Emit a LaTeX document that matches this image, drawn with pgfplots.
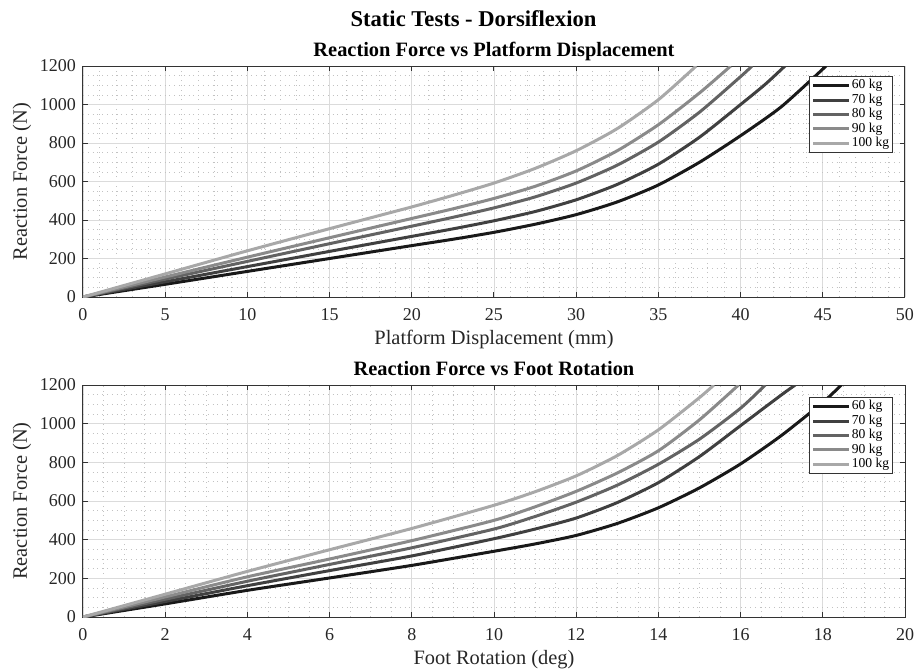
\documentclass[border=0pt]{standalone}
\usepackage{fontspec}
\setmainfont{Liberation Serif}
\usepackage{pgfplots}
\pgfplotsset{compat=1.18}
\definecolor{c60}{gray}{0.10}
\definecolor{c70}{gray}{0.25}
\definecolor{c80}{gray}{0.39}
\definecolor{c90}{gray}{0.54}
\definecolor{c100}{gray}{0.66}
\pgfplotsset{
  myax/.style={
    scale only axis, width=411pt,
    ymin=0, ymax=1200, ytick={0,200,...,1200},
    minor y tick num=3,
    grid=both,
    major grid style={color=black!14, line width=0.4pt},
    minor grid style={color=black!24, dotted, line width=0.3pt},
    axis line style={color=black!80, line width=0.5pt},
    tick style={color=black!80, line width=0.5pt},
    major tick length=2.5pt, minor tick length=0pt,
    tick align=inside,
    ticklabel style={font=\fontsize{9}{10}\selectfont, color=black!85},
    xticklabel style={anchor=base, yshift=-11.5pt},
    /pgf/number format/assume math mode=true,
    /pgf/number format/1000 sep={},
    label style={font=\fontsize{10.2}{12}\selectfont, color=black!85},
    xlabel style={at={(axis description cs:0.5,0)}, anchor=base, yshift=-23.5pt},
    ylabel style={at={(axis description cs:-0.0742,0.5)}, anchor=center},
    title style={font=\bfseries\fontsize{10.2}{12}\selectfont, at={(axis description cs:0.5,1)}, anchor=base, yshift=-1pt},
    legend cell align=left,
    legend image code/.code={\draw[##1, line width=1.5pt] (0pt,0pt) -- (18pt,0pt);},
    legend style={anchor=north east, draw=black!80, line width=0.5pt, fill=white,
      font=\fontsize{6.8}{7.5}\selectfont, inner sep=1pt, row sep=0pt,
      nodes={inner sep=0.6pt, text height=4.6pt, text depth=1.4pt}},
    every axis plot/.append style={line width=1.5pt, smooth, tension=0.4},
  }
}
\begin{document}
\begin{tikzpicture}
\useasboundingbox (0pt,0pt) rectangle (458.5pt,-335.5pt);
\node[font=\bfseries\fontsize{11.3}{13}\selectfont, anchor=base] at (236.75pt,-13pt) {Static Tests - Dorsiflexion};
\begin{axis}[myax, at={(41.5pt,-148.5pt)}, anchor=south west, height=115.5pt,
  xmin=0, xmax=50, xtick={0,5,...,50}, minor x tick num=4,
  xlabel={Platform Displacement (mm)}, ylabel={Reaction Force (N)},
  title={Reaction Force vs Platform Displacement},
  legend style={at={(rel axis cs:0.9854,0.9567)}}]
\addplot[c60] coordinates {(0,0)(5,66)(10,133)(15,200)(20,267)(22.5,300)(25,336)(27.5,378)(30,428)(32.5,494)(35,582)(37.5,700)(40,838)(42.5,990)(45.2,1200)};
\addplot[c70] coordinates {(0,0)(5,79)(10,158)(15,237)(20,315)(22.5,354)(25,396)(27.5,444)(30,505)(32.5,585)(35,690)(37.5,830)(40,1000)(41.5,1105)(42.7,1200)};
\addplot[c80] coordinates {(0,0)(5,93)(10,185)(15,277)(20,368)(22.5,414)(25,463)(27.5,520)(30,592)(32.5,685)(35,805)(37.5,960)(40,1145)(40.7,1200)};
\addplot[c90] coordinates {(0,0)(5,104)(10,207)(15,308)(20,408)(22.5,458)(25,512)(27.5,575)(30,655)(32.5,760)(35,895)(37.5,1060)(39.4,1200)};
\addplot[c100] coordinates {(0,0)(5,120)(10,240)(15,355)(20,468)(22.5,528)(25,592)(27.5,668)(30,760)(32.5,875)(35,1025)(37.3,1200)};
\legend{60 kg,70 kg,80 kg,90 kg,100 kg}
\end{axis}
\begin{axis}[myax, at={(41.5pt,-308.5pt)}, anchor=south west, height=116pt,
  xmin=0, xmax=20, xtick={0,2,...,20}, minor x tick num=3,
  xlabel={Foot Rotation (deg)}, ylabel={Reaction Force (N)},
  title={Reaction Force vs Foot Rotation},
  legend style={at={(rel axis cs:0.9854,0.948)}}]
\addplot[c60] coordinates {(0,0)(2,68)(4,138)(6,202)(8,267)(10,340)(11,378)(12,422)(13,484)(14,565)(15,668)(16,792)(17,940)(18,1110)(18.45,1200)};
\addplot[c70] coordinates {(0,0)(2,80)(4,162)(6,240)(8,316)(10,405)(11,455)(12,512)(13,592)(14,695)(15,830)(16,990)(17,1150)(17.33,1200)};
\addplot[c80] coordinates {(0,0)(2,92)(4,185)(6,272)(8,358)(10,455)(11,520)(12,594)(13,682)(14,790)(15,920)(16,1080)(16.6,1200)};
\addplot[c90] coordinates {(0,0)(2,104)(4,208)(6,300)(8,395)(10,500)(11,570)(12,650)(13,745)(14,860)(15,1020)(15.95,1200)};
\addplot[c100] coordinates {(0,0)(2,118)(4,236)(6,348)(8,458)(10,578)(11,648)(12,730)(13,835)(14,968)(15,1135)(15.35,1200)};
\legend{60 kg,70 kg,80 kg,90 kg,100 kg}
\end{axis}
\end{tikzpicture}
\end{document}
